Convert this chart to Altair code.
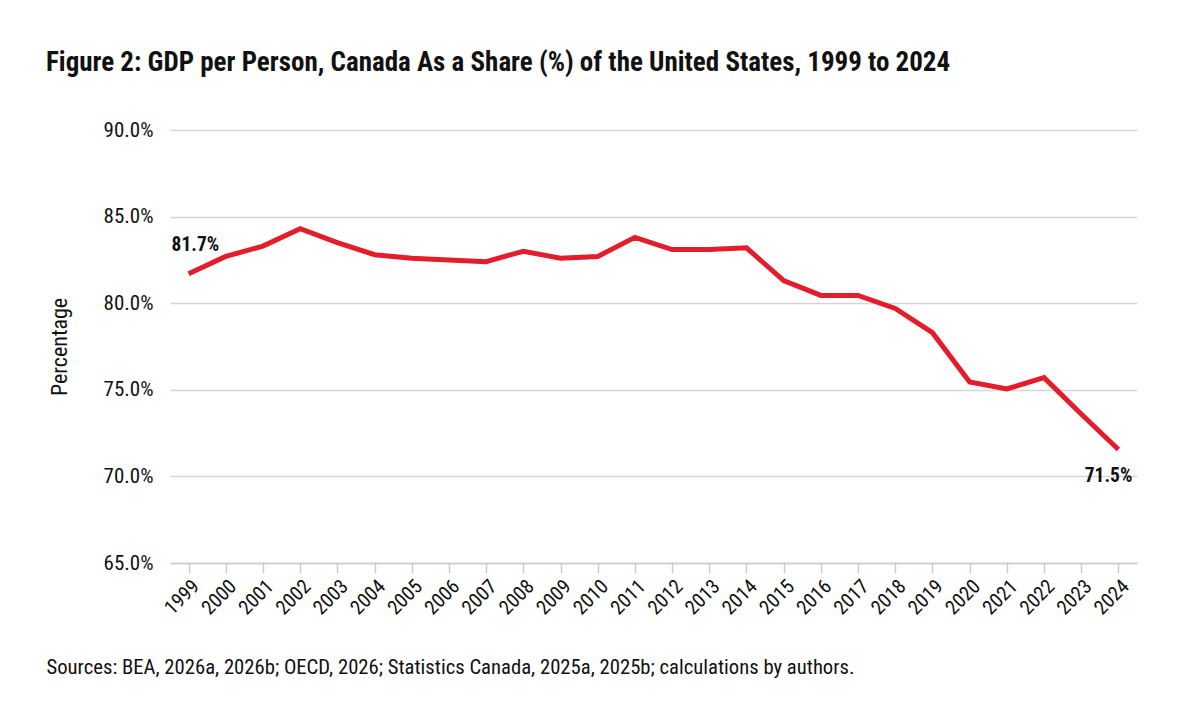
import altair as alt
import pandas as pd

years = [str(y) for y in range(1999, 2025)]
share = [81.7, 82.7, 83.3, 84.3, 83.5, 82.8, 82.6, 82.5, 82.4, 83.0, 82.6, 82.7, 83.8,
         83.1, 83.1, 83.2, 81.3, 80.45, 80.45, 79.7, 78.3, 75.45, 75.05, 75.7, 73.6, 71.55]
label_first = ["81.7%"]
label_last = ["71.5%"]
y_ticks = [65, 70, 75, 80, 85, 90]

FONT = "Roboto Condensed, Liberation Sans Narrow, DejaVu Sans Condensed, Roboto, sans-serif"
INK = "#111111"

df = pd.DataFrame({"year": years, "share": share})
df_first = pd.DataFrame({"year": [years[0]], "share": [share[0]], "label": label_first})
df_last = pd.DataFrame({"year": [years[-1]], "share": [share[-1]], "label": label_last})

x_enc = alt.X("year:O", scale=alt.Scale(type="point", padding=0.5),
              axis=alt.Axis(title="Sources: BEA, 2026a, 2026b; OECD, 2026; Statistics Canada, 2025a, 2025b; calculations by authors.",
                            titleAnchor="start", titleAlign="left", titleBaseline="alphabetic",
                            titleX=-124, titleY=110, titleFontSize=20.7, titleFontWeight="normal",
                            titleColor=INK, titleFont=FONT,
                            labelAngle=-45, labelFontSize=20, labelColor=INK, labelFont=FONT,
                            labelPadding=3, tickSize=10, tickColor="#cccccc", tickWidth=1.5,
                            domainColor="#cccccc", domainWidth=1.5, grid=False))
y_enc = alt.Y("share:Q", scale=alt.Scale(domain=[65, 90], nice=False, zero=False),
              axis=alt.Axis(values=y_ticks, labelExpr="format(datum.value, '.1f') + '%'",
                            title="Percentage", titleX=-104, titleY=216.5, titleFontSize=22,
                            titleBaseline="alphabetic",
                            titleFontWeight="normal", titleColor=INK, titleFont=FONT,
                            labelFontSize=21, labelColor=INK, labelFont=FONT, labelPadding=17,
                            ticks=False, domain=False, grid=True, gridColor="#d6d6d6", gridWidth=1.5))

line = alt.Chart(df).mark_line(color="#e31e2a", strokeWidth=5, strokeJoin="miter").encode(x=x_enc, y=y_enc)

t1 = alt.Chart(df_first).mark_text(align="left", baseline="middle", dx=-17, dy=-29,
                                   fontSize=19.5, fontWeight="bold", font=FONT, color=INK).encode(
    x=alt.X("year:O"), y=alt.Y("share:Q"), text="label:N")
t2 = alt.Chart(df_last).mark_text(align="right", baseline="middle", dx=14, dy=26,
                                  fontSize=19.5, fontWeight="bold", font=FONT, color=INK).encode(
    x=alt.X("year:O"), y=alt.Y("share:Q"), text="label:N")

chart = alt.layer(line, t1, t2).properties(
    width=967, height=433,
    title=alt.TitleParams("Figure 2: GDP per Person, Canada As a Share (%) of the United States, 1999 to 2024",
                          anchor="start", frame="group", dx=-124, offset=42, fontSize=27,
                          fontWeight="bold", font=FONT, color=INK),
    autosize=alt.AutoSizeParams(type="none"),
    padding={"left": 162, "top": 122, "right": 50, "bottom": 120},
    background="white",
).configure_view(stroke=None)

chart.save("out.html", embed_options={"renderer": "svg", "actions": False})
